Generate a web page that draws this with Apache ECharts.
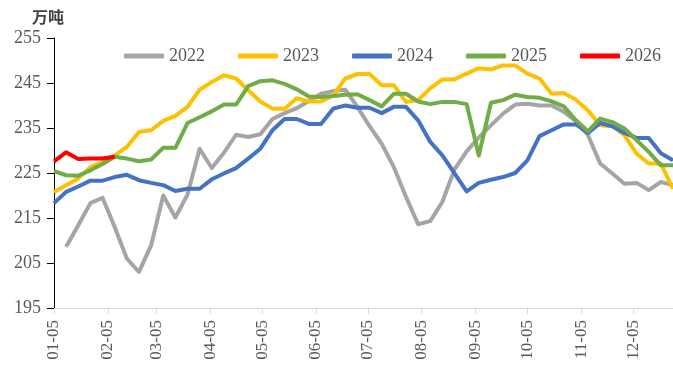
<!DOCTYPE html>
<html>
<head>
<meta charset="utf-8">
<script src="https://cdn.jsdelivr.net/npm/echarts@6/dist/echarts.min.js"></script>
<style>
html,body{margin:0;padding:0;background:#fff;}
#chart{width:673px;height:382px;}
</style>
</head>
<body>
<div id="chart"></div>
<script>
// ---- data ----
const seriesNames = ['2022', '2023', '2024', '2025', '2026'];
const monthTickLabels = ['01-05','02-05','03-05','04-05','05-05','06-05','07-05','08-05','09-05','10-05','11-05','12-05'];
const yTicks = [195, 205, 215, 225, 235, 245, 255];
const unitLabel = '万吨';

// weekly values (week 1 = 01-05, one value per week)
const v2022 = [null, 208.6, 213.4, 218.3, 219.5, 213.0, 206.0, 203.0, 208.9, 220.0,
  215.1, 220.2, 230.4, 226.1, 229.5, 233.5, 233.0, 233.6, 237.0, 238.3,
  239.4, 241.0, 242.6, 243.2, 243.5, 239.7, 235.4, 231.5, 226.3, 219.7,
  213.6, 214.3, 218.6, 225.8, 229.8, 232.9, 235.6, 238.2, 240.2, 240.4,
  240.0, 240.0, 238.6, 236.5, 233.4, 227.1, 224.9, 222.6, 222.8, 221.2,
  223.0, 222.3];
const v2023 = [220.8, 222.3, 223.8, 226.3, 227.4, 228.9, 230.8, 234.1, 234.5, 236.6,
  237.7, 239.7, 243.5, 245.2, 246.7, 246.0, 243.4, 240.9, 239.3, 239.3,
  241.6, 240.9, 240.9, 242.2, 246.0, 247.0, 247.0, 244.5, 244.5, 240.8,
  241.2, 243.8, 245.8, 245.8, 247.1, 248.3, 248.0, 248.9, 248.9, 247.1,
  246.0, 242.6, 242.8, 241.3, 238.9, 235.6, 235.4, 233.4, 229.3, 227.1,
  227.1, 221.5];
const v2024 = [218.3, 220.8, 222.0, 223.3, 223.3, 224.1, 224.6, 223.4, 222.8, 222.3,
  221.0, 221.5, 221.5, 223.6, 224.9, 226.1, 228.2, 230.4, 234.5, 237.0,
  237.0, 235.9, 235.9, 239.3, 240.0, 239.5, 239.5, 238.3, 239.7, 239.7,
  236.7, 231.9, 228.9, 224.9, 220.9, 222.8, 223.5, 224.1, 225.0, 227.8,
  233.2, 234.5, 235.8, 235.8, 233.9, 236.1, 235.4, 233.9, 232.8, 232.8,
  229.4, 227.8];
const v2025 = [225.4, 224.5, 224.4, 225.6, 227.0, 228.6, 228.2, 227.6, 228.0, 230.6,
  230.6, 236.1, 237.4, 238.7, 240.2, 240.2, 244.3, 245.4, 245.6, 244.8,
  243.6, 242.0, 241.9, 242.1, 242.4, 242.5, 241.2, 239.8, 242.6, 242.6,
  240.9, 240.3, 240.8, 240.8, 240.3, 228.9, 240.6, 241.2, 242.4, 241.9,
  241.7, 240.9, 239.8, 236.7, 234.3, 237.1, 236.3, 234.9, 232.3, 229.7,
  226.7, 226.7];
const v2026 = [227.6, 229.6, 228.1, 228.2, 228.2, 228.6];

const colors = ['#A5A5A5', '#FFC000', '#4472C4', '#70AD47', '#FF0000'];

// ---- axis structure: daily categories 01-05 .. 12-28, weekly points ----
const dayCats = [];
(function(){
  const d = new Date(Date.UTC(2023, 0, 5));
  const end = new Date(Date.UTC(2023, 11, 28));
  while (d <= end) {
    const m = String(d.getUTCMonth() + 1).padStart(2, '0');
    const dd = String(d.getUTCDate()).padStart(2, '0');
    dayCats.push(m + '-' + dd);
    d.setUTCDate(d.getUTCDate() + 1);
  }
})();
const weekDates = [];
for (let k = 0; k * 7 < dayCats.length; k++) weekDates.push(dayCats[k * 7]);

function pairs(vals) {
  const out = [];
  vals.forEach((v, k) => { if (v !== null) out.push([weekDates[k], v]); });
  return out;
}
const allVals = [v2022, v2023, v2024, v2025, v2026];

const chart = echarts.init(document.getElementById('chart'), null, {renderer: 'canvas'});
const serif = '"Liberation Serif", "Times New Roman", serif';
const isTick = (idx, val) => monthTickLabels.indexOf(val) >= 0;

chart.setOption({
  animation: false,
  backgroundColor: '#ffffff',
  color: colors,
  grid: {left: 54, right: 0, top: 38, bottom: 74, containLabel: false},
  graphic: [{
    type: 'text', left: 32, top: 9,
    style: {text: unitLabel, fill: '#404040', font: 'bold 16px "Noto Sans CJK SC", sans-serif'}
  }],
  legend: {
    top: 42, left: 119,
    itemWidth: 40, itemHeight: 5, itemGap: 33,
    icon: 'roundRect',
    textStyle: {fontFamily: serif, fontSize: 18, color: '#595959'},
    data: seriesNames
  },
  xAxis: {
    type: 'category',
    data: dayCats,
    boundaryGap: false,
    axisLine: {lineStyle: {color: '#d9d9d9', width: 1}},
    axisTick: {interval: isTick, length: 6, lineStyle: {color: '#d9d9d9'}},
    axisLabel: {interval: isTick, rotate: 90, margin: 12, fontFamily: serif, fontSize: 17, color: '#595959'},
    splitLine: {show: false}
  },
  yAxis: {
    type: 'value',
    min: yTicks[0], max: yTicks[yTicks.length - 1], interval: 10,
    axisLine: {show: true, lineStyle: {color: '#000000', width: 1}},
    axisTick: {show: true, length: 7, lineStyle: {color: '#000000'}},
    axisLabel: {margin: 13, fontFamily: serif, fontSize: 18, color: '#595959'},
    splitLine: {show: false}
  },
  series: seriesNames.map((name, i) => ({
    name: name,
    type: 'line',
    data: pairs(allVals[i]),
    showSymbol: false,
    symbol: 'none',
    lineStyle: {width: 4, color: colors[i], join: 'round'},
    itemStyle: {color: colors[i]},
    z: 2 + i
  }))
});
</script>
</body>
</html>
